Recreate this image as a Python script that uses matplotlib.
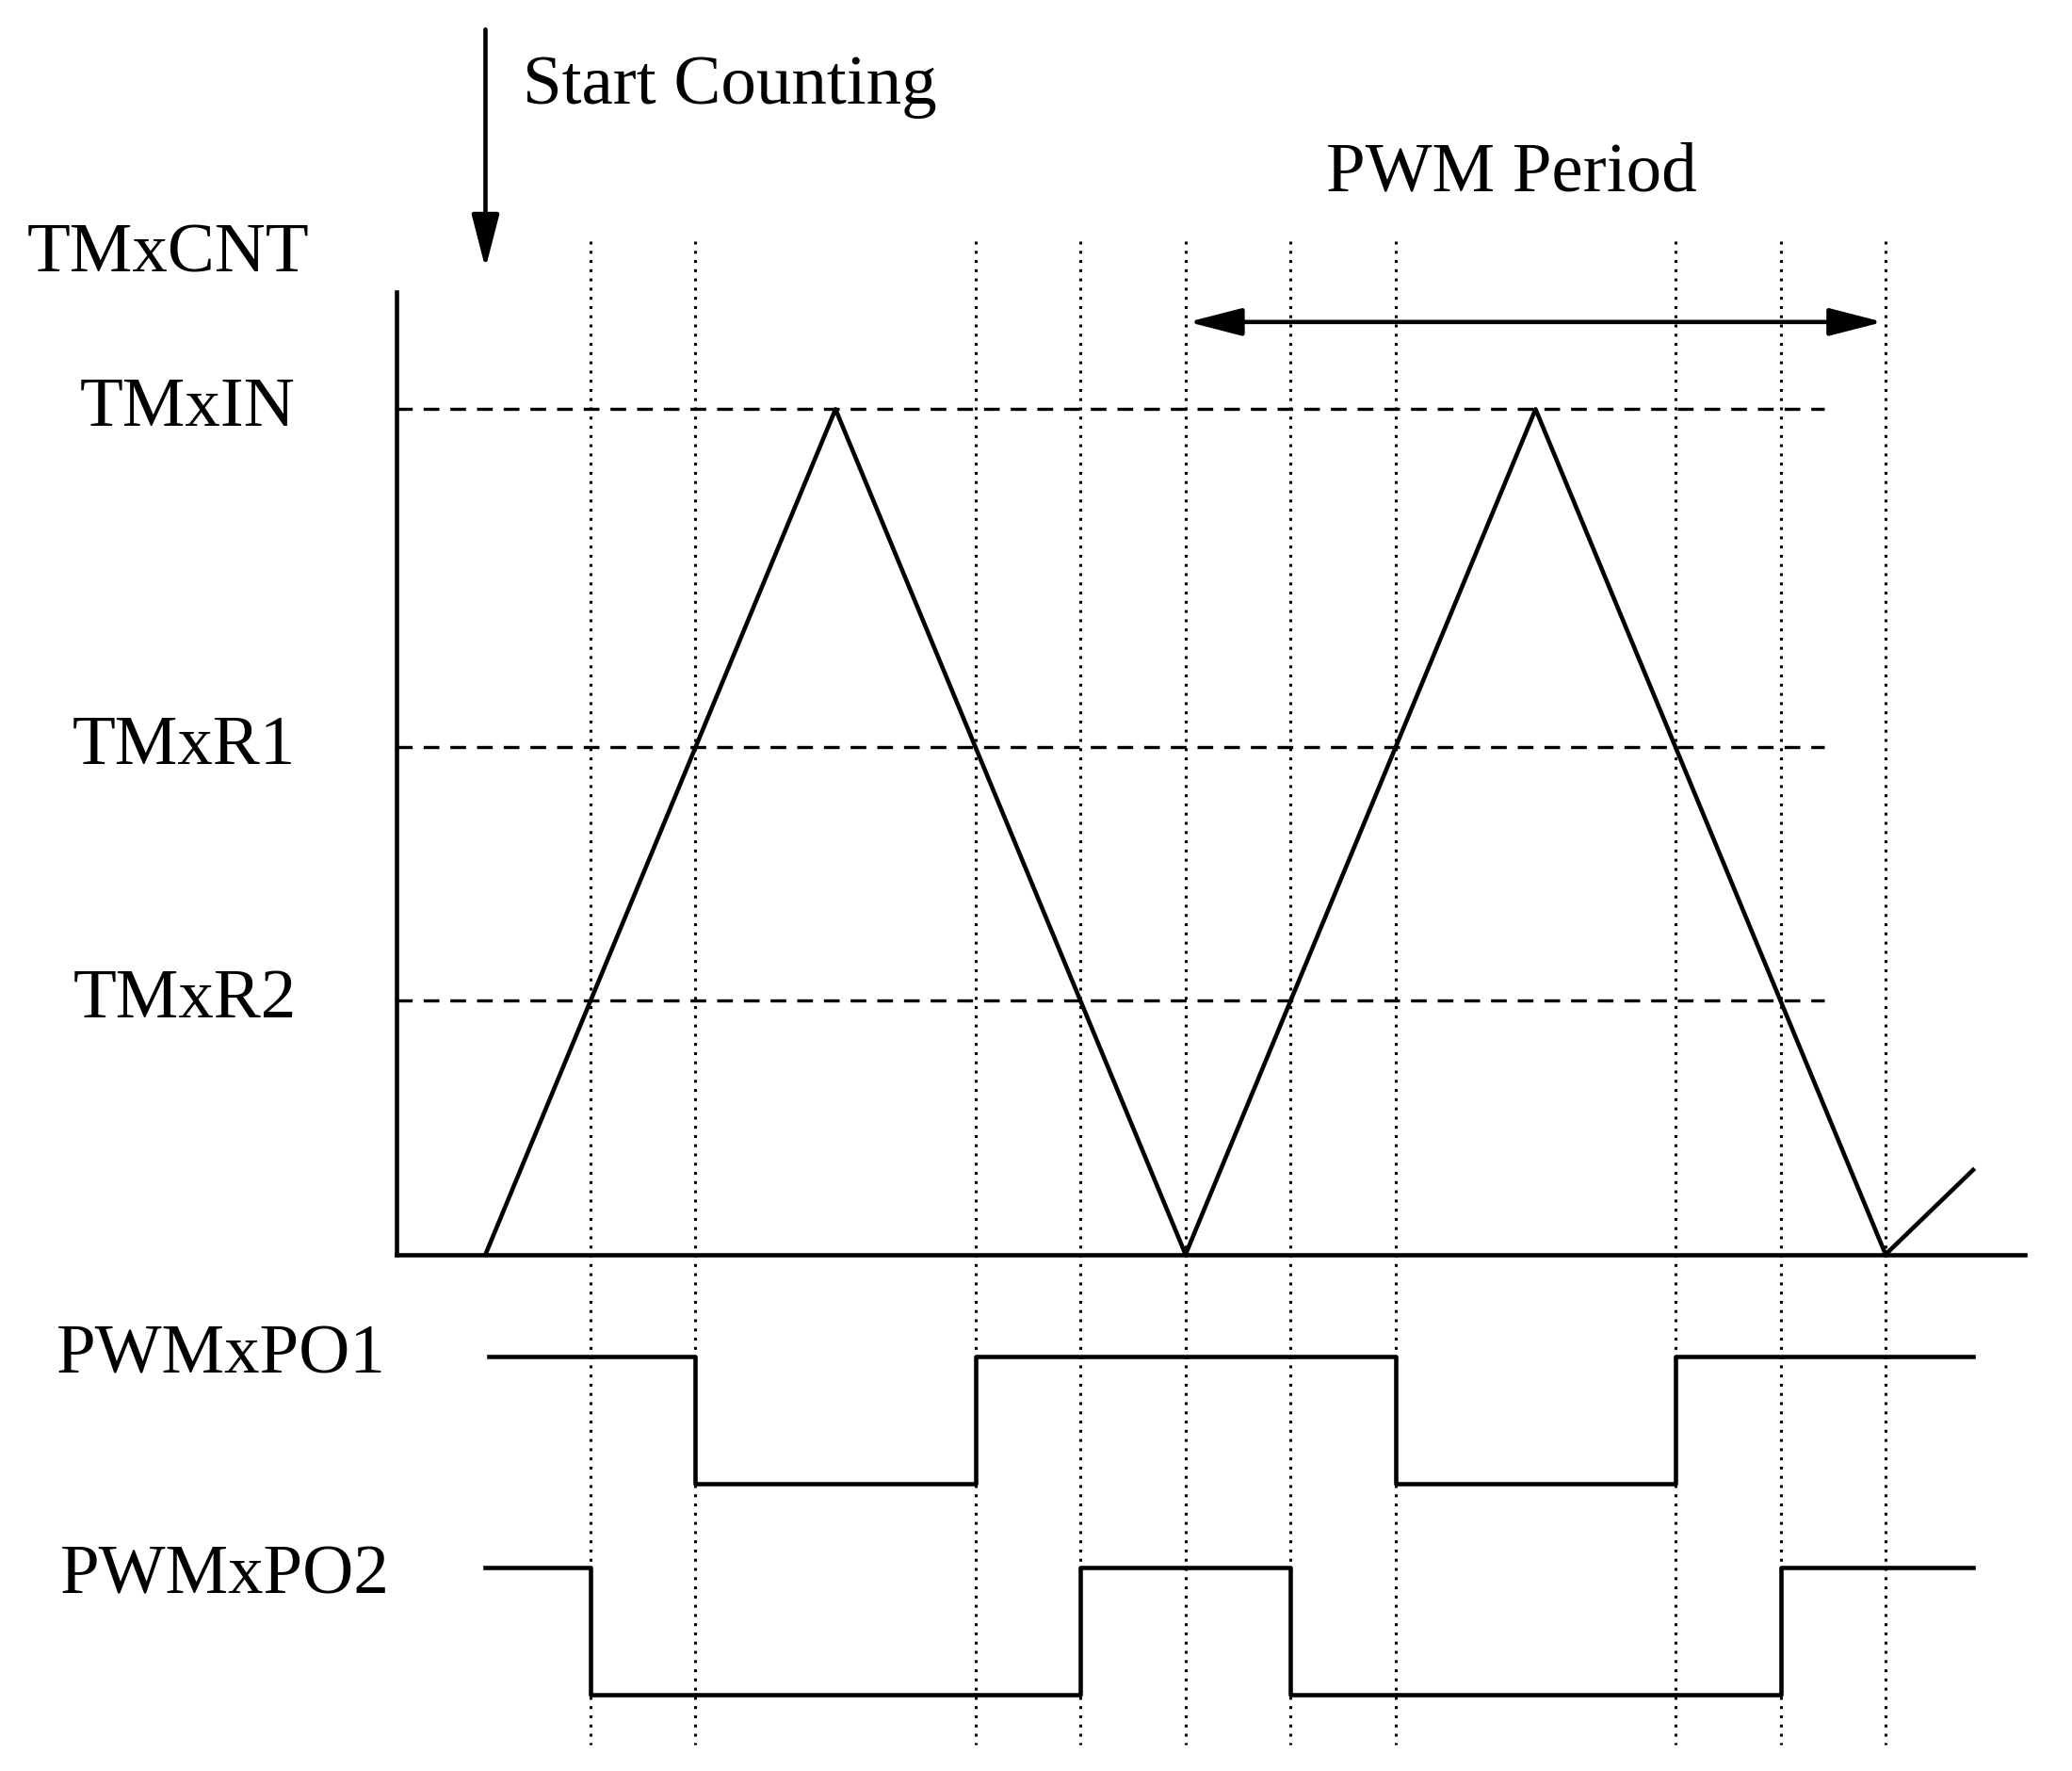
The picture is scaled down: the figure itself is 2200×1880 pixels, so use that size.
import matplotlib
matplotlib.use("Agg")
import matplotlib.pyplot as plt

# counter waveform (time units, count normalized to TMxIN=1)
tri_t = [0, 1, 2, 3, 4, 4.25]
tri_c = [0, 1, 0, 1, 0, 0.1]
levels = {"TMxIN": 1.0, "TMxR1": 0.6, "TMxR2": 0.3}
events = [0.3, 0.6, 1.4, 1.7, 2.0, 2.3, 2.6, 3.4, 3.7, 4.0]
po1_t = [0.01, 0.6, 0.6, 1.4, 1.4, 2.6, 2.6, 3.4, 3.4, 4.25]
po1_s = [1, 1, 0, 0, 1, 1, 0, 0, 1, 1]
po2_t = [0.0, 0.3, 0.3, 1.7, 1.7, 2.3, 2.3, 3.7, 3.7, 4.25]
po2_s = [1, 1, 0, 0, 1, 1, 0, 0, 1, 1]

plt.rcParams['font.family'] = ['Liberation Serif', 'DejaVu Serif']
fig = plt.figure(figsize=(22, 18.8), dpi=100)
ax = fig.add_axes([0, 0, 1, 1])
ax.set_xlim(-362/261, (1545-362)/261)
ax.set_ylim(-385/630, 935/630)
ax.axis('off')
lw = 3.3
fs = 54

def py(p):
    return (935 - p) / 630
def px(p):
    return (p - 362) / 261

ax.plot(tri_t, tri_c, color='black', lw=lw)
ax.plot([px(296), px(296)], [py(218), 0], color='black', lw=lw)
ax.plot([px(296), px(1510)], [0, 0], color='black', lw=lw)
for name, v in levels.items():
    ax.plot([px(296), px(1360)], [v, v], color='black', lw=2.4, ls=(0, (5, 3.5)))
for e in events:
    ax.plot([e, e], [py(180), py(1300)], color='black', lw=2.2, ls=(0, (1, 2.2)))

hi1, lo1 = py(1011), py(1106)
hi2, lo2 = py(1168), py(1263)
ax.plot(po1_t, [lo1 + s*(hi1-lo1) for s in po1_s], color='black', lw=lw)
ax.plot(po2_t, [lo2 + s*(hi2-lo2) for s in po2_s], color='black', lw=lw)

ax.annotate('', xy=(0, py(202)), xytext=(0, py(20)),
            arrowprops=dict(arrowstyle='-|>,head_width=0.9,head_length=3.5', color='black', lw=lw))
ax.annotate('', xy=(2, py(240)), xytext=(4, py(240)),
            arrowprops=dict(arrowstyle='<|-|>,head_width=0.9,head_length=3.5', color='black', lw=lw))
ax.text(px(390), py(65), 'Start Counting', fontsize=fs, va='center', ha='left')
ax.text(px(1127), py(130), 'PWM Period', fontsize=fs, va='center', ha='center')
ax.text(px(20), py(190), 'TMxCNT', fontsize=fs, va='center', ha='left')
ax.text(px(140), py(305), 'TMxIN', fontsize=fs, va='center', ha='center')
ax.text(px(137), py(557), 'TMxR1', fontsize=fs, va='center', ha='center')
ax.text(px(138), py(746), 'TMxR2', fontsize=fs, va='center', ha='center')
ax.text(px(42), py(1011), 'PWMxPO1', fontsize=fs, va='center', ha='left')
ax.text(px(45), py(1175), 'PWMxPO2', fontsize=fs, va='center', ha='left')
fig.savefig('out.png', dpi=100)
